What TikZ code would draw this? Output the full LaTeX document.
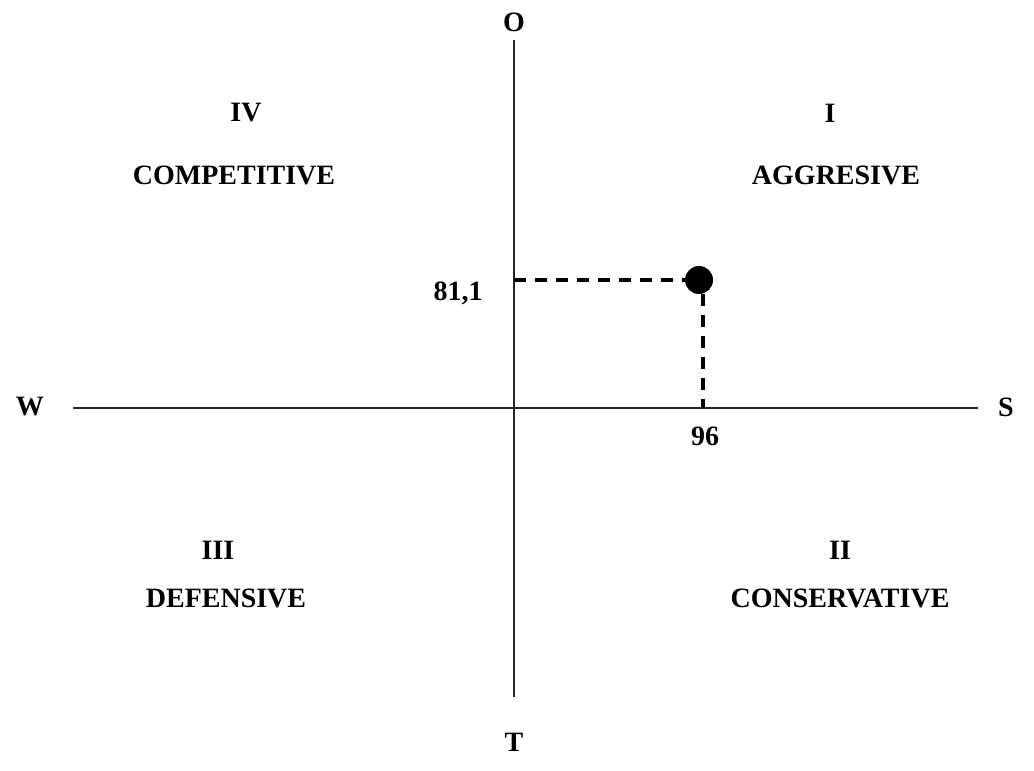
\documentclass[tikz,border=0pt]{standalone}
\usepackage{fontspec}
\setmainfont{Liberation Serif}
\begin{document}
\begin{tikzpicture}[x=0.5pt, y=-0.5pt,
		lbl/.style={font=\fontsize{14}{16}\selectfont\bfseries, inner sep=0pt},
		axis/.style={line width=0.6pt, black!85},
		guide/.style={line width=1.7pt, dash pattern=on 6pt off 4.5pt}]
		\useasboundingbox (0, 0) rectangle (1034, 771);
		% axes
		\coordinate (west) at (73, 408);
		\coordinate (east) at (978, 408);
		\coordinate (north) at (514, 40);
		\coordinate (south) at (514, 697);
		\draw[axis] (west) -- (east);
		\draw[axis] (north) -- (south);
		\node[lbl] (o) at (514, 22) {O};
		\node[lbl] (t) at (514, 742) {T};
		\node[lbl] (w) at (30, 407) {W};
		\node[lbl] (s) at (1006, 407) {S};
		% quadrants
		\node[lbl] (q4) at (246, 113) {IV};
		\node[lbl] (q4name) at (234, 175) {COMPETITIVE};
		\node[lbl] (q1) at (830, 113) {I};
		\node[lbl] (q1name) at (836, 175) {AGGRESIVE};
		\node[lbl] (q3) at (218, 550) {III};
		\node[lbl] (q3name) at (226, 598) {DEFENSIVE};
		\node[lbl] (q2) at (840, 550) {II};
		\node[lbl] (q2name) at (840, 598) {CONSERVATIVE};
		% position
		\coordinate (ymark) at (514, 280);
		\coordinate (xmark) at (703, 408);
		\node[circle, fill=black, minimum size=14pt, inner sep=0pt] (pos) at (699, 280) {};
		\draw[guide] (ymark) -- (pos.west);
		\draw[guide] (xmark |- pos.south) -- (xmark);
		\node[lbl] (yval) at (458, 293) {81,1};
		\node[lbl] (xval) at (705, 436) {96};
	\end{tikzpicture}
\end{document}
